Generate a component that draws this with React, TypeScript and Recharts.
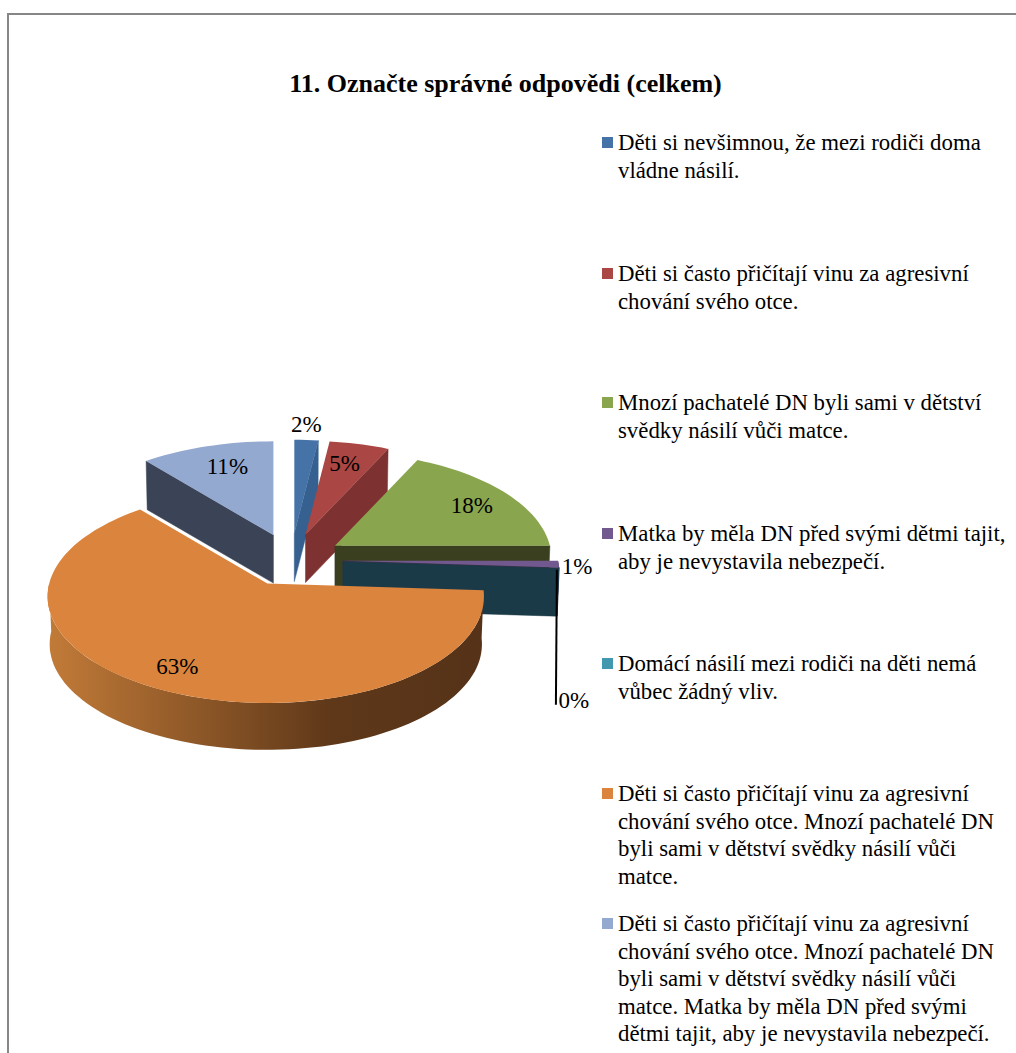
import React from "react";
import { PieChart, Pie, Legend } from "recharts";

const TITLE = "11. Označte správné odpovědi (celkem)";

const categories = [
  "Děti si nevšimnou, že mezi rodiči doma\nvládne násilí.",
  "Děti si často přičítají vinu za agresivní\nchování svého otce.",
  "Mnozí pachatelé DN byli sami v dětství\nsvědky násilí vůči matce.",
  "Matka by měla DN před svými dětmi tajit,\naby je nevystavila nebezpečí.",
  "Domácí násilí mezi rodiči na děti nemá\nvůbec žádný vliv.",
  "Děti si často přičítají vinu za agresivní\nchování svého otce. Mnozí pachatelé DN\nbyli sami v dětství svědky násilí vůči\nmatce.",
  "Děti si často přičítají vinu za agresivní\nchování svého otce. Mnozí pachatelé DN\nbyli sami v dětství svědky násilí vůči\nmatce. Matka by měla DN před svými\ndětmi tajit, aby je nevystavila nebezpečí.",
];
const percents = [2, 5, 18, 1, 0, 63, 11];

// styling, kept apart from the values
const faceColors = ["#4572a7", "#aa4643", "#89a54e", "#71588f", "#4198af", "#db843d", "#93a9cf"];
const wallColors = ["#35608f", "#7d3131", "#3a3f20", "#3f3150", "#1b3a47", "url(#orangeWall)", "#3b4456"];
const legendTops = [129, 260, 389, 520, 650, 780, 910];
const labelShift = [
  [12, -109],
  [39, -71],
  [137, -40],
  [234, 6],
  [231, 139],
  [-90, 83],
  [-46, -69],
];

const tableData = categories.map((name, i) => ({
  name,
  value: percents[i],
  fill: faceColors[i],
  wall: wallColors[i],
}));

const RAD = Math.PI / 180;
const DEPTH = 48;
const EXPLODE_X = 52;
const EXPLODE_Y = 26.5;
const TILT = 105 / 215; // how flat the pie lies
const PERSPECTIVE = 0.12; // far side is drawn smaller than the near side
const LEFT_STRETCH = 1.015; // the left half reaches a little further out

function tipOf(cx: number, cy: number, midAngle: number) {
  const m = (90 - midAngle) * RAD;
  return [cx + EXPLODE_X * Math.sin(m), cy - EXPLODE_Y * Math.cos(m)];
}

function rim(tip: number[], r: number, deg: number, down = 0) {
  const t = deg * RAD;
  const s = 1 / (1 + PERSPECTIVE * Math.cos(t));
  const dx = r * Math.sin(t) * s;
  return [tip[0] + (dx < 0 ? dx * LEFT_STRETCH : dx), tip[1] - r * TILT * Math.cos(t) * s + down];
}

function arc(tip: number[], r: number, from: number, to: number, down = 0) {
  const pts: number[][] = [];
  const steps = Math.max(1, Math.ceil((to - from) / 2));
  for (let i = 0; i <= steps; i++) pts.push(rim(tip, r, from + ((to - from) * i) / steps, down));
  return pts;
}

const toPoints = (pts: number[][]) => pts.map((p) => `${p[0].toFixed(1)},${p[1].toFixed(1)}`).join(" ");

// one exploded 3D wedge, from the angles the Pie computed
function Wedge(props: any) {
  const { cx, cy, outerRadius, startAngle, endAngle, midAngle, fill } = props;
  const wall = props.wall ?? props.payload?.wall;
  const from = 90 - startAngle;
  const to = 90 - endAngle;
  const tip = tipOf(cx, cy, midAngle ?? (startAngle + endAngle) / 2);
  const low = [tip[0], tip[1] + DEPTH];
  const lowR = outerRadius - 2;
  const cut = (deg: number) => [tip, rim(tip, outerRadius, deg), rim(tip, lowR, deg, DEPTH), low];
  const frontFrom = Math.max(from, 90);
  const frontTo = Math.min(to, 270);

  return (
    <g>
      <defs>
        <linearGradient id="orangeWall" x1="0" y1="0" x2="1" y2="0">
          <stop offset="0" stopColor="#c27b38" />
          <stop offset="0.65" stopColor="#5f3819" />
          <stop offset="1" stopColor="#553218" />
        </linearGradient>
      </defs>
      {to > 0 && to < 180 && <polygon points={toPoints(cut(to))} fill={wall} stroke={wall} strokeWidth={0.5} />}
      {from > 180 && from < 360 && <polygon points={toPoints(cut(from))} fill={wall} stroke={wall} strokeWidth={0.5} />}
      {frontTo > frontFrom && (
        <polygon
          points={toPoints([
            ...arc(tip, outerRadius, frontFrom, frontTo),
            ...arc(tip, lowR, frontFrom, frontTo, DEPTH).reverse(),
          ])}
          fill={wall}
        />
      )}
      {to > from && <polygon points={toPoints([tip, ...arc(tip, outerRadius, from, to)])} fill={fill} />}
    </g>
  );
}

function PercentLabel(props: any) {
  const { cx, cy, midAngle, index, value } = props;
  const shift = labelShift[index];
  const tip = tipOf(cx, cy, midAngle);
  const x = tip[0] + shift[0];
  const y = tip[1] + shift[1];
  return (
    <g>
      {value === 0 && (
        <line x1={x - 17} y1={y - 131} x2={x - 18} y2={y + 4} stroke="#000" strokeWidth={2} />
      )}
      <text
        x={x}
        y={y}
        textAnchor="middle"
        dominantBaseline="central"
        fontFamily="'Liberation Serif', serif"
        fontSize={23}
        fill="#000"
      >
        {value}%
      </text>
    </g>
  );
}

function LegendList({ payload }: any) {
  return (
    <div>
      {(payload ?? []).map((entry: any, i: number) => (
        <div
          key={i}
          style={{
            position: "absolute",
            left: 602,
            top: legendTops[i],
            fontFamily: "'Liberation Serif', serif",
            fontSize: 22.8,
            lineHeight: "27.6px",
            color: "#000",
            whiteSpace: "pre",
          }}
        >
          <span
            style={{
              position: "absolute",
              left: 0,
              top: 8,
              width: 11,
              height: 11,
              background: entry.color,
            }}
          />
          <div style={{ marginLeft: 16 }}>{entry.value}</div>
        </div>
      ))}
    </div>
  );
}

export default function App() {
  return (
    <div
      style={{
        position: "absolute",
        left: 0,
        top: 0,
        width: 1016,
        height: 1053,
        overflow: "hidden",
        background: "#fff",
      }}
    >
      {/* frame runs off the right and bottom of the picture */}
      <div style={{ position: "absolute", left: 7, top: 13, width: 1009, height: 2, background: "#868686" }} />
      <div style={{ position: "absolute", left: 7, top: 13, width: 2, height: 1040, background: "#868686" }} />
      <div
        style={{
          position: "absolute",
          left: 0,
          width: 1011,
          top: 69,
          textAlign: "center",
          fontFamily: "'Liberation Serif', serif",
          fontWeight: "bold",
          fontSize: 26,
          color: "#000",
        }}
      >
        {TITLE}
      </div>
      <div style={{ position: "absolute", left: 0, top: 0 }}>
        <PieChart width={1016} height={1053} margin={{ top: 0, right: 0, bottom: 0, left: 0 }}>
          <Pie
            data={tableData}
            dataKey="value"
            nameKey="name"
            cx={291}
            cy={560}
            outerRadius={215}
            startAngle={90}
            endAngle={-270}
            stroke="none"
            shape={Wedge}
            label={PercentLabel}
            labelLine={false}
            isAnimationActive={false}
          />
          <Legend
            content={LegendList}
            layout="vertical"
            itemSorter={null}
            wrapperStyle={{ position: "absolute", left: 0, top: 0, width: 1016, height: 1053 }}
          />
        </PieChart>
      </div>
    </div>
  );
}
